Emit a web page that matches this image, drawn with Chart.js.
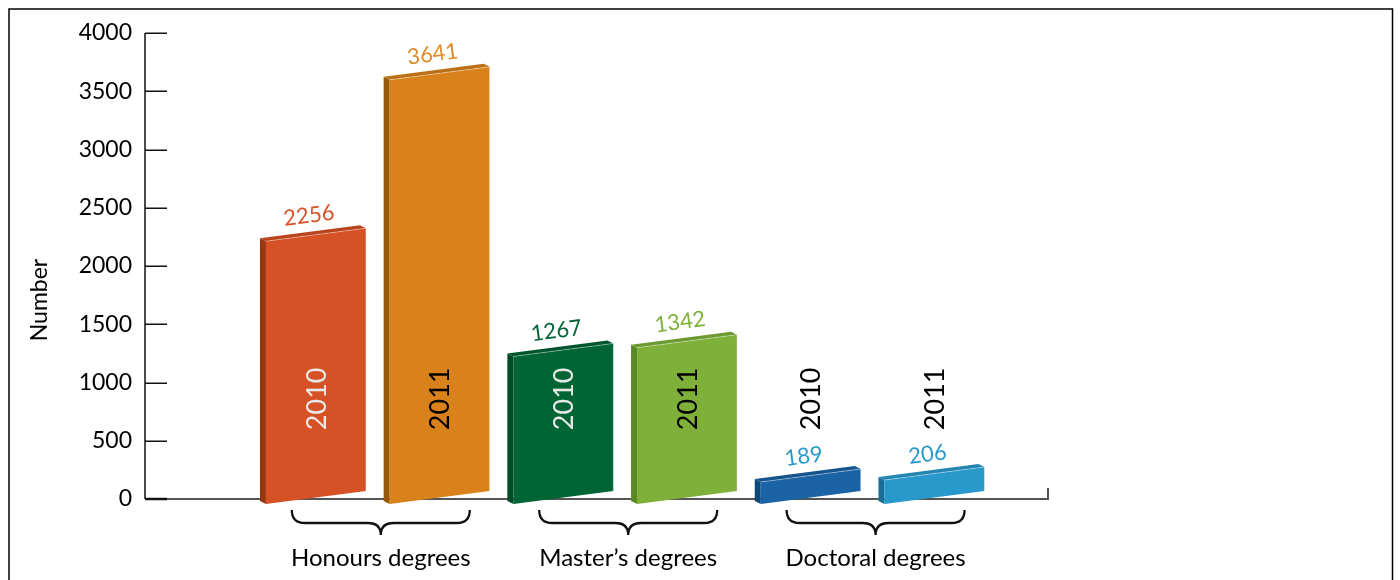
<!DOCTYPE html>
<html><head><meta charset="utf-8">
<script src="https://cdn.jsdelivr.net/npm/chart.js@4.4.1/dist/chart.umd.min.js"></script>
<style>html,body{margin:0;padding:0;background:#fff;}canvas{display:block;}</style>
</head><body>
<canvas id="c" width="1400" height="580"></canvas>
<script>
// ---- data ----
const groups = ['Honours degrees', 'Master\u2019s degrees', 'Doctoral degrees'];
const years = ['2010', '2011'];
const values2010 = [2256, 1267, 189];
const values2011 = [3641, 1342, 206];
const yTickValues = [0, 500, 1000, 1500, 2000, 2500, 3000, 3500, 4000];
const axisTitle = 'Number';
const yearLabelValue = 860;

// ---- styles ----
const front = [['#D65126', '#D9821B'], ['#006535', '#7EB03A'], ['#1A64A6', '#2999CB']];
const side  = [['#96370F', '#955A08'], ['#004A26', '#5A8A26'], ['#0E4878', '#1B6E96']];
const topc  = [['#B9441C', '#BC7015'], ['#00552C', '#6C9A30'], ['#15558E', '#2385B2']];
const valueColor = [['#D65126', '#E08A28'], ['#006535', '#7EB03A'], ['#2999CB', '#2999CB']];
const yearColor = [['#E8E8E8', '#000000'], ['#E8E8E8', '#000000'], ['#000000', '#000000']];
const FONT = 'Lato, "Open Sans", sans-serif';

function pos(g, yi) { return g * 2 + yi + 1; }

const datasets = [values2010, values2011].map((vals, yi) => ({
  label: years[yi],
  data: vals.map((v, g) => ({ x: pos(g, yi), y: v })),
  backgroundColor: 'rgba(0,0,0,0)',
  borderWidth: 0,
  barThickness: 100,
  grouped: false
}));

const fake3d = {
  id: 'fake3d',
  beforeDatasetsDraw(chart) {
    const { ctx, chartArea: a, scales: { y } } = chart;
    const y0 = Math.round(y.getPixelForValue(0));
    ctx.save();
    ctx.strokeStyle = '#555';
    ctx.lineWidth = 2;
    ctx.beginPath();
    ctx.moveTo(a.left, y0);
    ctx.lineTo(a.right, y0);
    ctx.lineTo(a.right, y0 - 11);
    ctx.stroke();
    ctx.strokeStyle = '#111';
    ctx.lineWidth = 1.5;
    ctx.beginPath();
    ctx.moveTo(a.left, a.top);
    ctx.lineTo(a.left, a.bottom);
    y.ticks.forEach(t => {
      const py = Math.round(y.getPixelForValue(t.value)) + 0.25;
      ctx.moveTo(a.left, py);
      ctx.lineTo(a.left + 22, py);
    });
    ctx.stroke();
    ctx.lineWidth = 2.5;
    ctx.beginPath();
    ctx.moveTo(a.left, y0);
    ctx.lineTo(a.left + 22, y0);
    ctx.stroke();
    ctx.restore();
  },
  afterDatasetsDraw(chart) {
    const { ctx, scales: { x, y } } = chart;
    ctx.save();
    const dl = 5, dr = -8, ddx = -6, ddy = -3;
    chart.data.datasets.forEach((ds, yi) => {
      const meta = chart.getDatasetMeta(yi);
      meta.data.forEach((el, g) => {
        const L = el.x - el.width / 2, R = el.x + el.width / 2;
        const tl = el.y + dl, tr = el.y + dr, bl = el.base + dl, br = el.base + dr;
        ctx.fillStyle = side[g][yi];
        ctx.beginPath();
        ctx.moveTo(L, tl); ctx.lineTo(L, bl); ctx.lineTo(L + ddx, bl + ddy); ctx.lineTo(L + ddx, tl + ddy);
        ctx.closePath(); ctx.fill();
        ctx.fillStyle = topc[g][yi];
        ctx.beginPath();
        ctx.moveTo(L, tl); ctx.lineTo(R, tr); ctx.lineTo(R + ddx, tr + ddy); ctx.lineTo(L + ddx, tl + ddy);
        ctx.closePath(); ctx.fill();
        ctx.fillStyle = front[g][yi];
        ctx.beginPath();
        ctx.moveTo(L, tl); ctx.lineTo(R, tr); ctx.lineTo(R, br); ctx.lineTo(L, bl);
        ctx.closePath(); ctx.fill();
        ctx.strokeStyle = 'rgba(255,255,255,0.35)';
        ctx.lineWidth = 1;
        ctx.beginPath();
        ctx.moveTo(L, tl); ctx.lineTo(R, tr); ctx.lineTo(R, br);
        ctx.stroke();
        const mid = (tl + tr) / 2;
        ctx.save();
        ctx.translate(el.x - 7, mid - 19);
        ctx.rotate(-7.5 * Math.PI / 180);
        ctx.font = '22px ' + FONT;
        ctx.fillStyle = valueColor[g][yi];
        ctx.textAlign = 'center';
        ctx.textBaseline = 'middle';
        ctx.fillText(String(ds.data[g].y), 0, 0);
        ctx.restore();
        ctx.save();
        ctx.translate(el.x + 1, y.getPixelForValue(yearLabelValue));
        ctx.rotate(-Math.PI / 2);
        ctx.font = '27px ' + FONT;
        ctx.fillStyle = yearColor[g][yi];
        ctx.textAlign = 'center';
        ctx.textBaseline = 'middle';
        ctx.fillText(years[yi], 0, 0);
        ctx.restore();
      });
    });
    const m0 = chart.getDatasetMeta(0), m1 = chart.getDatasetMeta(1);
    groups.forEach((name, g) => {
      const cx = (m0.data[g].x + m1.data[g].x) / 2 + 3;
      const l = cx - 89, r = cx + 89, top = 510, midY = 523, bot = 535, rr = 13;
      ctx.strokeStyle = '#111';
      ctx.lineWidth = 2.3;
      ctx.beginPath();
      ctx.moveTo(l, top);
      ctx.quadraticCurveTo(l, midY, l + rr, midY);
      ctx.lineTo(cx - rr, midY);
      ctx.quadraticCurveTo(cx, midY, cx, bot);
      ctx.quadraticCurveTo(cx, midY, cx + rr, midY);
      ctx.lineTo(r - rr, midY);
      ctx.quadraticCurveTo(r, midY, r, top);
      ctx.stroke();
      ctx.font = '24px ' + FONT;
      ctx.fillStyle = '#000';
      ctx.textAlign = 'center';
      ctx.textBaseline = 'alphabetic';
      ctx.fillText(name, cx, 566);
    });
    ctx.save();
    ctx.translate(40, 300);
    ctx.rotate(-Math.PI / 2);
    ctx.font = '23px ' + FONT;
    ctx.fillStyle = '#000';
    ctx.textAlign = 'center';
    ctx.textBaseline = 'middle';
    ctx.fillText(axisTitle, 0, 0);
    ctx.restore();
    ctx.strokeStyle = '#000';
    ctx.lineWidth = 1.5;
    ctx.strokeRect(9, 9, 1383.5, 700);
    ctx.restore();
  }
};

new Chart(document.getElementById('c'), {
  type: 'bar',
  data: { datasets },
  options: {
    responsive: false,
    animation: false,
    devicePixelRatio: 1,
    layout: { padding: { left: 0, top: 33, right: 352, bottom: 81 } },
    plugins: { legend: { display: false }, tooltip: { enabled: false } },
    scales: {
      x: { type: 'linear', min: -0.382, max: 6.918, offset: false, display: false },
      y: {
        min: 0, max: 4000,
        afterBuildTicks: s => { s.ticks = yTickValues.map(v => ({ value: v })); },
        ticks: { font: { size: 23, family: FONT }, color: '#000', padding: 13, callback: v => String(v) },
        grid: { display: false, drawTicks: false },
        border: { display: false },
        afterFit: s => { s.width = 145; }
      }
    }
  },
  plugins: [fake3d]
});
</script>
</body></html>
